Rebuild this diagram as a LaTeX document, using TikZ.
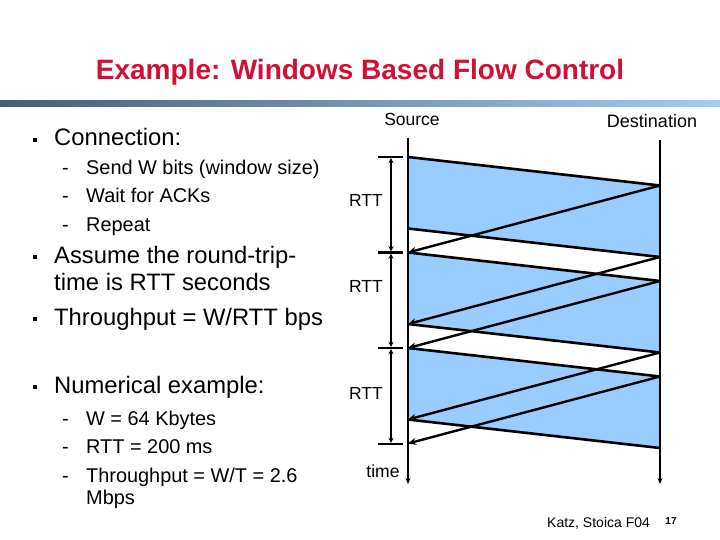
\documentclass[tikz,border=0pt]{standalone}
\usepackage{fontspec}
\setmainfont{Liberation Sans}
\usetikzlibrary{arrows.meta,positioning}
\definecolor{titlered}{RGB}{208,16,52}
\definecolor{winblue}{RGB}{153,204,255}
\definecolor{bardark}{RGB}{72,94,116}
\definecolor{barlight}{RGB}{160,204,245}

\begin{document}
\begin{tikzpicture}[x=1pt,y=-1pt]
\tikzstyle{every node}+=[inner sep=0pt]
\tikzstyle{main}=[anchor=base west,font=\fontsize{23.8}{28}\selectfont]
\tikzstyle{sub}=[anchor=base west,font=\fontsize{19.9}{23}\selectfont]
\tikzstyle{lbl}=[font=\fontsize{17.5}{20}\selectfont]
\tikzstyle{blt}=[fill,minimum size=4pt]
\tikzstyle{msg}=[line width=2.6pt]
\tikzstyle{ack}=[line width=2.4pt,-{Stealth[length=8pt,width=7pt]}]
\tikzstyle{tick}=[line width=2.5pt]
\tikzstyle{span}=[line width=1.5pt,{Stealth[length=5pt,width=5pt]}-{Stealth[length=5pt,width=5pt]},shorten <=1.2pt,shorten >=1.2pt]
\tikzstyle{axis}=[line width=1.8pt,-{Stealth[length=6pt,width=5pt]}]

\useasboundingbox (0,0) rectangle (720,540);

% title
\node (title) [font=\fontsize{28}{33}\selectfont\bfseries,text=titlered,anchor=base] at (360,80)
  {Example: Windows Based Flow Control};
\shade[left color=bardark,right color=barlight] (0,101) rectangle (720,107);

% bullet text
\node (b1)  [blt] at (35,140) {};
\node (conn) [main] at (54,146) {Connection:};
\node (d1)  [sub] at (62,175) {-};
\node (send) [sub] at (86,175) {Send W bits (window size)};
\node (d2)  [sub] at (62,203) {-};
\node (wait) [sub] at (86,203) {Wait for ACKs};
\node (d3)  [sub] at (62,231) {-};
\node (rep) [sub] at (86,231) {Repeat};
\node (b2)  [blt] at (35,257) {};
\node (ass1) [main] at (54,263) {Assume the round-trip-};
\node (ass2) [main] at (54,290) {time is RTT seconds};
\node (b3)  [blt] at (35,319) {};
\node (thr) [main] at (54,325) {Throughput = W/RTT bps};
\node (b4)  [blt] at (35,387) {};
\node (num) [main] at (54,393) {Numerical example:};
\node (d4)  [sub] at (62,425) {-};
\node (wval) [sub] at (86,425) {W = 64 Kbytes};
\node (d5)  [sub] at (62,453) {-};
\node (rval) [sub] at (86,453) {RTT = 200 ms};
\node (d6)  [sub] at (62,482) {-};
\node (tval) [sub] at (86,482) {Throughput = W/T = 2.6};
\node (mbps) [sub] at (86,504) {Mbps};

% source and destination
\node (src) [lbl,anchor=base] at (412,126) {Source};
\node (dst) [lbl,anchor=base,font=\fontsize{18}{20}\selectfont] at (652,128) {Destination};
\coordinate (stop) at (408,138);
\coordinate (sbot) at (408,484);
\coordinate (dtop) at (660,140);
\coordinate (dbot) at (660,484);

% windows
\foreach \t [count=\i] in {157,252.5,348} {
  \coordinate (a\i) at (408,\t);
  \coordinate (b\i) at (408,\t+71.5);
  \coordinate (c\i) at (660,\t+28.5);
  \coordinate (d\i) at (660,\t+100);
  \coordinate (e\i) at (408,\t+95.5);
  \coordinate (f\i) at (408,\t+167);
  \fill[winblue] (a\i) -- (c\i) -- (d\i) -- (b\i) -- cycle;
}
\foreach \i in {1,2,3} {
  \draw[msg] (a\i) -- (c\i);
  \draw[msg] (b\i) -- (d\i);
  \draw[ack] (c\i) -- (e\i);
}
\draw[ack] (d1) -- (f1);
\draw[ack] (d2) -- (f2);

\draw[axis] (stop) -- (sbot);
\draw[axis] (dtop) -- (dbot);

% RTT marks
\foreach \y [count=\k] in {157,252.5,348,444} {
  \coordinate (tl\k) at (378,\y);
  \coordinate (tr\k) at (403,\y);
  \coordinate (tm\k) at (391,\y);
  \draw[tick] (tl\k) -- (tr\k);
}
\draw[span] (tm1) -- (tm2);
\draw[span] (tm2) -- (tm3);
\draw[span] (tm3) -- (tm4);
\node (rtt1) [lbl] at (366,200) {RTT};
\node (rtt2) [lbl] at (366,286) {RTT};
\node (rtt3) [lbl] at (366,393) {RTT};
\node (time) [lbl] at (383,471) {time};

% footer
\node (foot) [anchor=base west,font=\fontsize{14}{16}\selectfont] at (547,527) {Katz, Stoica F04};
\node (page) [anchor=base,font=\fontsize{10}{12}\selectfont\bfseries] at (671,524) {17};
\end{tikzpicture}
\end{document}
